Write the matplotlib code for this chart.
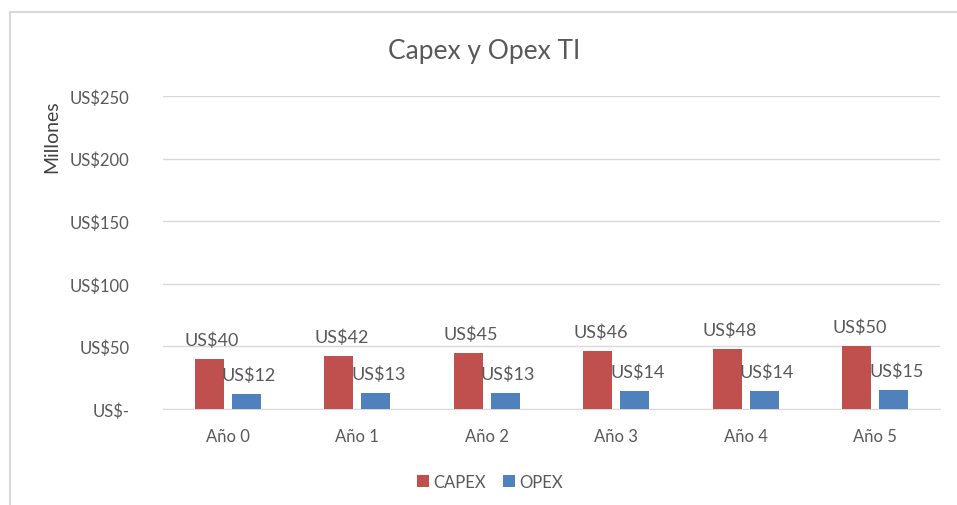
import matplotlib
matplotlib.use("Agg")
import matplotlib.pyplot as plt
import numpy as np

categories = ["Año 0", "Año 1", "Año 2", "Año 3", "Año 4", "Año 5"]
capex = [40, 42, 45, 46, 48, 50]
opex = [12, 13, 13, 14, 14, 15]
yticks = [0, 50, 100, 150, 200, 250]
ytick_labels = ["US$-", "US$50", "US$100", "US$150", "US$200", "US$250"]

plt.rcParams['font.family'] = ['Lato', 'DejaVu Sans']
text_color = "#595959"
c_capex = "#C0504D"
c_opex = "#4F81BD"

fig = plt.figure(figsize=(9.57, 5.06), dpi=100)
fig.patch.set_facecolor("white")

# chart border (left and top edges visible)
fig.add_artist(plt.Line2D([10/957, 10/957], [0, 1 - 13/506], color="#D9D9D9", lw=1.5, transform=fig.transFigure))
fig.add_artist(plt.Line2D([10/957, 1], [1 - 13/506, 1 - 13/506], color="#D9D9D9", lw=1.5, transform=fig.transFigure))

ax = fig.add_axes([163/957, 1 - 410/506, (940 - 163)/957, (410 - 97)/506])
x = np.arange(len(categories))
w = 0.225
gap = 0.06
b1 = ax.bar(x - (w + gap)/2, capex, width=w, color=c_capex, zorder=3)
b2 = ax.bar(x + (w + gap)/2, opex, width=w, color=c_opex, zorder=3)

for rect, v in zip(b1, capex):
    ax.annotate(f"US${v}", (rect.get_x() + rect.get_width()/2, v),
                xytext=(2, 8), textcoords="offset points", ha="center", va="bottom",
                fontsize=13, color=text_color)
for rect, v in zip(b2, opex):
    ax.annotate(f"US${v}", (rect.get_x() + rect.get_width()/2, v),
                xytext=(2, 8), textcoords="offset points", ha="center", va="bottom",
                fontsize=13, color=text_color)

ax.set_xlim(-0.5, len(categories) - 0.5)
ax.set_ylim(0, 250)
ax.set_yticks(yticks)
ax.set_yticklabels(ytick_labels)
ax.set_xticks(x)
ax.set_xticklabels(categories)
ax.tick_params(axis="both", length=0, labelsize=12, colors=text_color)
ax.tick_params(axis="y", pad=24)
ax.tick_params(axis="x", pad=14)
ax.grid(axis="y", color="#D9D9D9", lw=1, zorder=0)
for s in ["top", "right", "left"]:
    ax.spines[s].set_visible(False)
ax.spines["bottom"].set_color("#D9D9D9")

fig.text(52/957, 1 - 137/506, "Millones", rotation=90, ha="center", va="center",
         fontsize=14, color="#404040")
fig.text(484/957, 1 - 52/506, "Capex y Opex TI", ha="center", va="center",
         fontsize=19, color=text_color)

leg = fig.legend(handles=[b1, b2], labels=["CAPEX", "OPEX"], loc="center",
                 bbox_to_anchor=(490/957, 1 - 483/506), ncol=2, frameon=False,
                 fontsize=12, handlelength=0.7, handleheight=0.7, columnspacing=1.0,
                 handletextpad=0.3)
for t in leg.get_texts():
    t.set_color(text_color)

fig.savefig("out.png", dpi=100)
